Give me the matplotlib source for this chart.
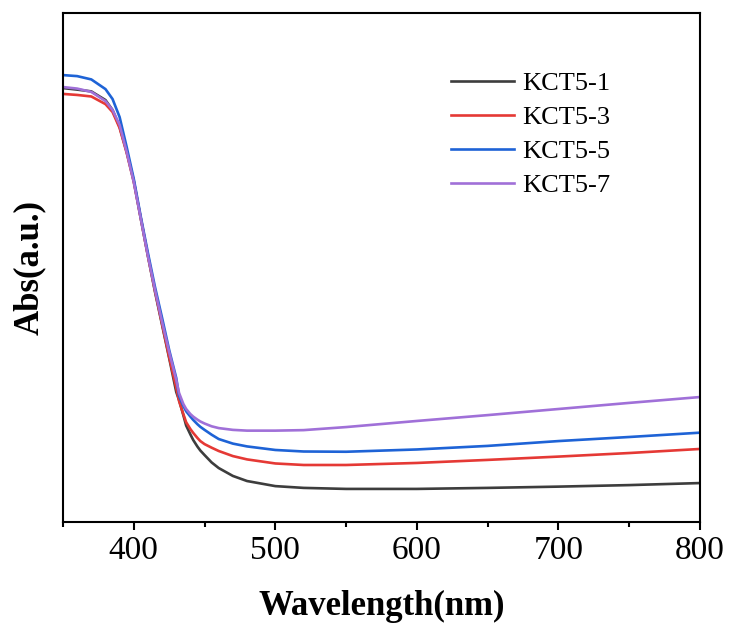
import matplotlib
matplotlib.use("Agg")
import matplotlib.pyplot as plt
from matplotlib.ticker import MultipleLocator

# wavelength (nm) and absorbance (a.u.)
wavelength = [350, 360, 370, 380, 385, 390, 395, 400, 405, 410, 415, 420, 425,
              430, 432, 435, 437, 440, 442, 445, 447, 450, 455, 460, 470, 480,
              500, 520, 550, 600, 650, 700, 750, 800]

kct5_1 = [1.705, 1.699, 1.692, 1.658, 1.619, 1.552, 1.454, 1.340, 1.191, 1.045,
          0.904, 0.774, 0.644, 0.511, 0.479, 0.420, 0.379, 0.344, 0.322, 0.296,
          0.281, 0.263, 0.234, 0.212, 0.181, 0.161, 0.141, 0.134, 0.130, 0.130,
          0.134, 0.139, 0.145, 0.153]
kct5_3 = [1.682, 1.678, 1.672, 1.642, 1.611, 1.548, 1.450, 1.336, 1.191, 1.045,
          0.908, 0.778, 0.648, 0.527, 0.475, 0.424, 0.392, 0.365, 0.350, 0.330,
          0.318, 0.306, 0.292, 0.279, 0.259, 0.246, 0.230, 0.224, 0.224, 0.232,
          0.244, 0.257, 0.271, 0.287]
kct5_5 = [1.756, 1.752, 1.739, 1.701, 1.662, 1.591, 1.473, 1.348, 1.198, 1.057,
          0.923, 0.802, 0.676, 0.566, 0.495, 0.456, 0.435, 0.414, 0.401, 0.384,
          0.374, 0.362, 0.343, 0.326, 0.308, 0.297, 0.283, 0.277, 0.276, 0.285,
          0.299, 0.318, 0.334, 0.351]
kct5_7 = [1.709, 1.703, 1.690, 1.654, 1.619, 1.560, 1.454, 1.336, 1.191, 1.045,
          0.912, 0.786, 0.668, 0.558, 0.507, 0.464, 0.444, 0.424, 0.414, 0.402,
          0.395, 0.387, 0.376, 0.369, 0.362, 0.359, 0.359, 0.361, 0.373, 0.397,
          0.420, 0.444, 0.468, 0.491]

labels = ["KCT5-1", "KCT5-3", "KCT5-5", "KCT5-7"]
colors = ["#3d3d3d", "#e53935", "#1e63d6", "#a070d8"]

plt.rcParams["font.family"] = ["Liberation Serif", "DejaVu Serif"]

fig = plt.figure(figsize=(7.29, 6.35), dpi=100)
ax = fig.add_axes([63 / 729, 113 / 635, 637 / 729, 509 / 635])

for series, lab, col in zip([kct5_1, kct5_3, kct5_5, kct5_7], labels, colors):
    ax.plot(wavelength, series, color=col, lw=1.9, label=lab)

ax.set_xlim(350, 800)
ax.set_ylim(0, 2.0)
ax.xaxis.set_major_locator(MultipleLocator(100))
ax.xaxis.set_minor_locator(MultipleLocator(50))
ax.set_yticks([])
ax.tick_params(axis="x", which="major", direction="out", length=6, width=1.5,
               labelsize=24, pad=4)
ax.tick_params(axis="x", which="minor", direction="out", length=3.5, width=1.5)
for sp in ax.spines.values():
    sp.set_linewidth(1.5)

ax.set_xlabel("Wavelength(nm)", fontsize=25, fontweight="bold", labelpad=17)
ax.set_ylabel("Abs(a.u.)", fontsize=25, fontweight="bold", labelpad=12)

ax.legend(loc="upper left", bbox_to_anchor=(0.592, 0.905), frameon=False,
          fontsize=19, handlelength=2.4, handletextpad=0.3, labelspacing=0.4,
          borderaxespad=0)

fig.savefig("out.png", dpi=100)
